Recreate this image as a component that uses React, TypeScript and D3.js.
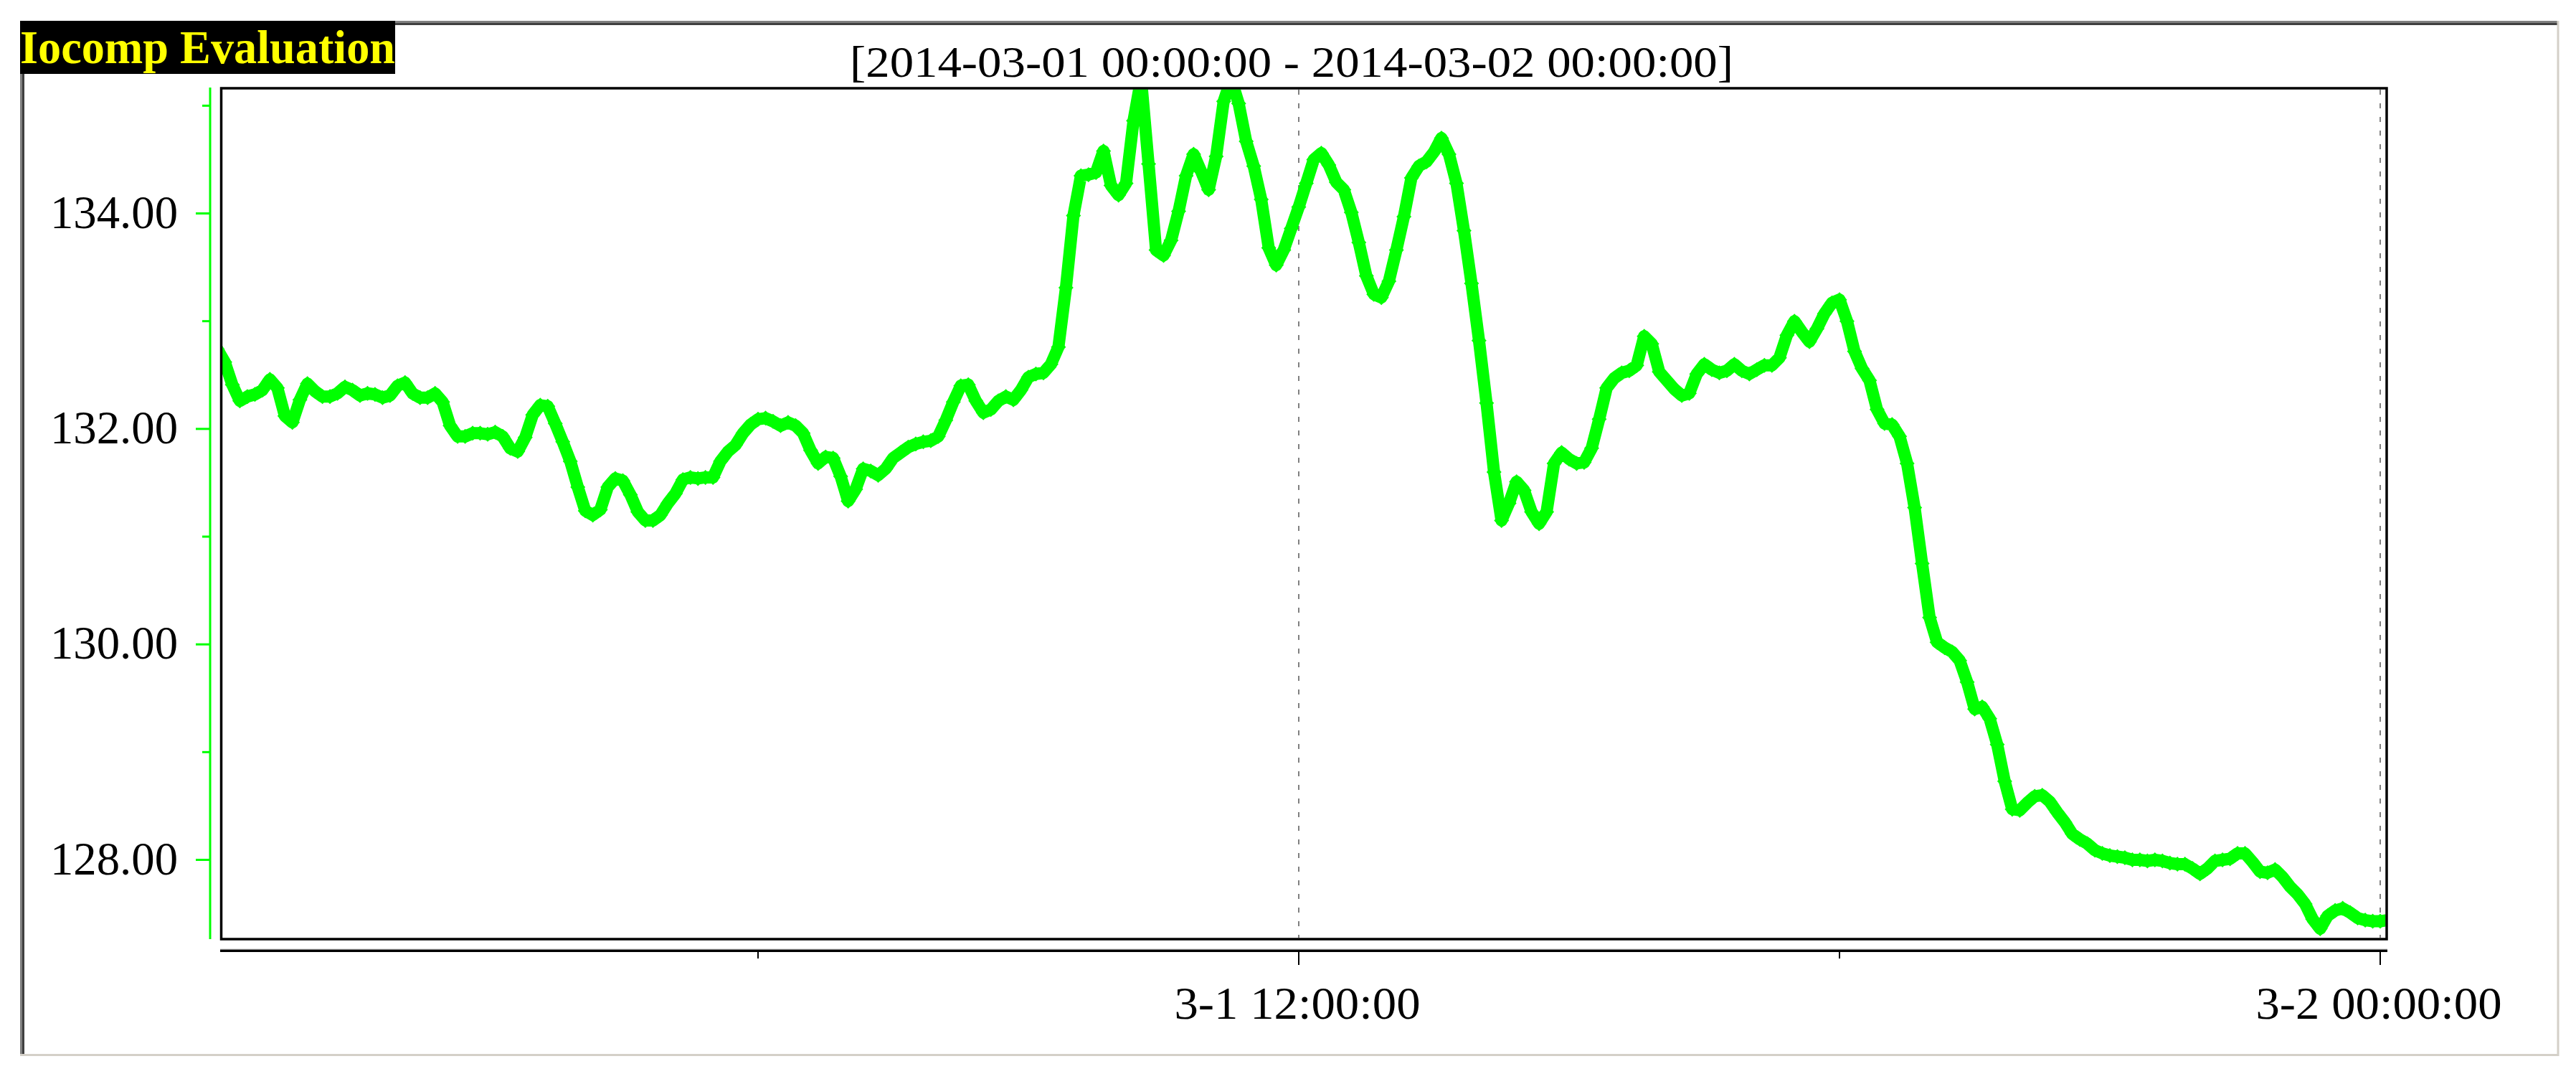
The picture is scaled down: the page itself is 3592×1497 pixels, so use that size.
import React from 'react';
import * as d3 from 'd3';

// ---------- text ----------
const TITLE = 'Iocomp Evaluation';
const SUBTITLE = '[2014-03-01 00:00:00 - 2014-03-02 00:00:00]';

// ---------- time axis ----------
const START = new Date(Date.UTC(2014, 2, 1, 0, 0, 0));
const END = new Date(Date.UTC(2014, 2, 2, 0, 0, 0));
const STEP_MINUTES = 5;
const X_MAJOR_HOURS = [12, 24];
const X_MINOR_HOURS = [6, 18];
const X_GRID_HOURS = [12, 24];

// ---------- value axis ----------
const Y_MAJOR = [128, 130, 132, 134];
const Y_MINOR = [129, 131, 133, 135];

// ---------- series (one value every 5 minutes) ----------
const VALUES = [
  132.74, 132.62, 132.41, 132.26, 132.30, 132.32, 132.36, 132.46, 132.38, 132.12,
  132.06, 132.27, 132.42, 132.35, 132.30, 132.30, 132.33, 132.39, 132.36, 132.31,
  132.33, 132.32, 132.29, 132.31, 132.40, 132.43, 132.33, 132.29, 132.29, 132.33,
  132.25, 132.03, 131.93, 131.93, 131.96, 131.96, 131.95, 131.97, 131.93, 131.82,
  131.79, 131.92, 132.13, 132.22, 132.21, 132.05, 131.88, 131.70, 131.46, 131.24,
  131.20, 131.25, 131.46, 131.54, 131.52, 131.39, 131.23, 131.15, 131.15, 131.20,
  131.31, 131.40, 131.53, 131.55, 131.54, 131.55, 131.55, 131.70, 131.79, 131.85,
  131.96, 132.04, 132.09, 132.10, 132.07, 132.03, 132.06, 132.03, 131.96, 131.80,
  131.68, 131.74, 131.73, 131.56, 131.33, 131.44, 131.63, 131.61, 131.57, 131.63,
  131.73, 131.78, 131.83, 131.86, 131.88, 131.89, 131.93, 132.08, 132.25, 132.40,
  132.41, 132.26, 132.15, 132.18, 132.26, 132.30, 132.27, 132.36, 132.48, 132.51,
  132.52, 132.60, 132.76, 133.31, 133.98, 134.35, 134.36, 134.38, 134.58, 134.26,
  134.17, 134.28, 134.86, 135.25, 134.46, 133.66, 133.61, 133.75, 134.02, 134.35,
  134.55, 134.39, 134.22, 134.53, 135.04, 135.25, 135.02, 134.67, 134.44, 134.13,
  133.68, 133.52, 133.66, 133.86, 134.06, 134.28, 134.50, 134.56, 134.45, 134.29,
  134.22, 134.01, 133.73, 133.42, 133.25, 133.22, 133.37, 133.66, 133.97, 134.33,
  134.44, 134.48, 134.57, 134.70, 134.55, 134.28, 133.84, 133.35, 132.82, 132.24,
  131.60, 131.15, 131.31, 131.51, 131.43, 131.23, 131.12, 131.23, 131.68, 131.78,
  131.72, 131.68, 131.69, 131.82, 132.09, 132.38, 132.47, 132.52, 132.54, 132.59,
  132.86, 132.79, 132.53, 132.45, 132.37, 132.31, 132.33, 132.51, 132.60, 132.55,
  132.52, 132.54, 132.60, 132.54, 132.51, 132.55, 132.59, 132.59, 132.66, 132.87,
  133.00, 132.90, 132.81, 132.93, 133.07, 133.17, 133.20, 133.00, 132.72, 132.56,
  132.45, 132.18, 132.05, 132.04, 131.93, 131.68, 131.27, 130.75, 130.25, 130.02,
  129.97, 129.93, 129.85, 129.65, 129.40, 129.42, 129.31, 129.07, 128.73, 128.47,
  128.46, 128.53, 128.59, 128.60, 128.54, 128.44, 128.35, 128.24, 128.19, 128.15,
  128.09, 128.06, 128.04, 128.03, 128.02, 128.00, 128.00, 127.99, 128.00, 127.99,
  127.97, 127.96, 127.96, 127.92, 127.87, 127.92, 127.99, 128.00, 128.01, 128.06,
  128.06, 127.98, 127.89, 127.88, 127.91, 127.84, 127.75, 127.68, 127.59, 127.45,
  127.36, 127.48, 127.53, 127.55, 127.51, 127.46, 127.44, 127.43, 127.43, 127.44,
];

const W = 3592;
const H = 1497;
const FONT = '"Liberation Serif", "Times New Roman", serif';
const GREEN = '#00ff00';

export default function App() {
  const plot = { left: 308.5, top: 123, right: 3328, bottom: 1309 };
  const x = d3.scaleUtc().domain([START, END]).range([303, 3319]);
  const y = d3.scaleLinear().domain([128, 134]).range([1198.5, 297.5]);

  const data = VALUES.map((v, i) => ({ t: d3.utcMinute.offset(START, i * STEP_MINUTES), v }));
  const line = d3
    .line<{ t: Date; v: number }>()
    .x((d) => x(d.t))
    .y((d) => y(d.v));
  const fmtX = d3.utcFormat('%-m-%-d %H:%M:%S');
  const fmtY = d3.format('.2f');
  const r = 10.5;
  const diamonds = data
    .map((d) => {
      const cx = x(d.t);
      const cy = y(d.v);
      return `M${cx},${cy - r}L${cx + r},${cy}L${cx},${cy + r}L${cx - r},${cy}Z`;
    })
    .join('');

  const axisX = 293;
  const xAxisY = 1325.5;

  return (
    <svg
      width={W}
      height={H}
      viewBox={`0 0 ${W} ${H}`}
      style={{ position: 'absolute', left: 0, top: 0, background: '#ffffff' }}
    >
      <defs>
        <clipPath id="plotClip">
          <rect x={plot.left + 1.5} y={plot.top + 1.5} width={plot.right - plot.left - 3} height={plot.bottom - plot.top - 3} />
        </clipPath>
      </defs>
      <rect x={0} y={0} width={W} height={H} fill="#ffffff" />

      {/* outer sunken frame */}
      <line x1={551} y1={30.5} x2={3568} y2={30.5} stroke="#808080" strokeWidth={3} />
      <line x1={551} y1={33.5} x2={3566} y2={33.5} stroke="#404040" strokeWidth={3} />
      <line x1={29.5} y1={103} x2={29.5} y2={1472} stroke="#808080" strokeWidth={3} />
      <line x1={32.5} y1={103} x2={32.5} y2={1469} stroke="#404040" strokeWidth={3} />
      <line x1={3567} y1={29} x2={3567} y2={1472} stroke="#d4d0c8" strokeWidth={3} />
      <line x1={28} y1={1470.5} x2={3568} y2={1470.5} stroke="#d4d0c8" strokeWidth={3} />

      {/* title box */}
      <rect x={28} y={29} width={523} height={74} fill="#000000" />
      <text
        x={28}
        y={88}
        fill="#ffff00"
        fontFamily={FONT}
        fontWeight="bold"
        fontSize={65}
        textLength={523}
        lengthAdjust="spacingAndGlyphs"
      >
        {TITLE}
      </text>

      {/* subtitle */}
      <text
        x={1801}
        y={107}
        textAnchor="middle"
        fill="#000000"
        fontFamily={FONT}
        fontSize={62}
        textLength={1232}
        lengthAdjust="spacingAndGlyphs"
      >
        {SUBTITLE}
      </text>

      {/* vertical dashed grid lines */}
      {X_GRID_HOURS.map((h) => {
        const gx = Math.round(x(d3.utcHour.offset(START, h)));
        return (
          <line
            key={`g${h}`}
            x1={gx}
            x2={gx}
            y1={plot.top + 2}
            y2={plot.bottom - 2}
            stroke="#808080"
            strokeWidth={2}
            strokeDasharray="7 12"
          />
        );
      })}

      {/* series */}
      <g clipPath="url(#plotClip)">
        <path d={line(data) || ''} fill="none" stroke={GREEN} strokeWidth={17} strokeLinejoin="round" strokeLinecap="round" />
        <path d={diamonds} fill={GREEN} stroke="none" />
      </g>

      {/* plot border */}
      <rect
        x={plot.left}
        y={plot.top}
        width={plot.right - plot.left}
        height={plot.bottom - plot.top}
        fill="none"
        stroke="#000000"
        strokeWidth={3.5}
      />

      {/* y axis */}
      <line x1={axisX} x2={axisX} y1={122} y2={1309} stroke={GREEN} strokeWidth={3} />
      {Y_MAJOR.map((v) => (
        <g key={`ym${v}`}>
          <line x1={273} x2={axisX} y1={y(v)} y2={y(v)} stroke={GREEN} strokeWidth={3} />
          <text
            x={248}
            y={y(v) + 20}
            textAnchor="end"
            fill="#000000"
            fontFamily={FONT}
            fontSize={65}
            textLength={178}
            lengthAdjust="spacingAndGlyphs"
          >
            {fmtY(v)}
          </text>
        </g>
      ))}
      {Y_MINOR.map((v) => (
        <line key={`yn${v}`} x1={282} x2={axisX} y1={y(v)} y2={y(v)} stroke={GREEN} strokeWidth={3} />
      ))}

      {/* x axis */}
      <line x1={307} x2={3329} y1={1323.5} y2={1323.5} stroke="#808080" strokeWidth={1.5} />
      <line x1={307} x2={3329} y1={xAxisY} y2={xAxisY} stroke="#000000" strokeWidth={3} />
      {X_MINOR_HOURS.map((h) => {
        const tx = x(d3.utcHour.offset(START, h));
        return <line key={`xn${h}`} x1={tx} x2={tx} y1={1327} y2={1336} stroke="#000000" strokeWidth={2} />;
      })}
      {X_MAJOR_HOURS.map((h) => {
        const t = d3.utcHour.offset(START, h);
        const tx = x(t);
        return (
          <g key={`xm${h}`}>
            <line x1={tx} x2={tx} y1={1327} y2={1345} stroke="#000000" strokeWidth={2} />
            <text
              x={tx - 2}
              y={1420}
              textAnchor="middle"
              fill="#000000"
              fontFamily={FONT}
              fontSize={64}
              textLength={343}
              lengthAdjust="spacingAndGlyphs"
            >
              {fmtX(t)}
            </text>
          </g>
        );
      })}
    </svg>
  );
}
